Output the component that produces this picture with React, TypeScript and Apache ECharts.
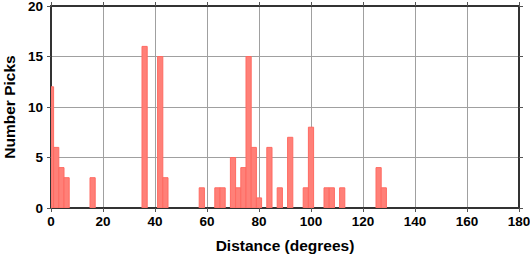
import React, { useEffect, useRef } from "react";
import * as echarts from "echarts";

const binCenters = [0, 2, 4, 6, 16, 36, 42, 44, 58, 64, 66, 70, 72, 74, 76, 78, 80, 84, 88, 92, 98, 100, 106, 108, 112, 126, 128];
const binCounts = [12, 6, 4, 3, 3, 16, 15, 3, 2, 2, 2, 5, 2, 4, 15, 6, 1, 6, 2, 7, 2, 8, 2, 2, 2, 4, 2];
const binWidth = 2;
const xTitle = "Distance (degrees)";
const yTitle = "Number Picks";

export default function App() {
  const ref = useRef<HTMLDivElement>(null);
  useEffect(() => {
    if (!ref.current) return;
    const chart = echarts.init(ref.current, undefined, { renderer: "svg" });
    const font = { fontFamily: "Liberation Sans", fontWeight: "bold" as const, color: "#000" };
    const frame = { show: true, onZero: false, lineStyle: { color: "#333", width: 2 } };
    const tick = { show: true, length: 4, lineStyle: { color: "#555", width: 1 } };
    chart.setOption({
      animation: false,
      grid: { left: 51, right: 11, top: 6, bottom: 50, containLabel: false, outerBoundsMode: "none" },
      xAxis: [
        {
          type: "value", min: 0, max: 180, interval: 20,
          axisLine: frame, axisTick: tick,
          axisLabel: { ...font, fontSize: 13.5, margin: 6 },
          splitLine: { show: true, lineStyle: { color: "#a0a0a0", width: 1 } },
          name: xTitle, nameLocation: "middle", nameGap: 29,
          nameTextStyle: { ...font, fontSize: 15.5 },
        },
        {
          type: "value", position: "top", min: 0, max: 180, interval: 20,
          axisLine: frame, axisTick: tick, axisLabel: { show: false }, splitLine: { show: false },
        },
      ],
      yAxis: [
        {
          type: "value", min: 0, max: 20, interval: 5,
          axisLine: frame, axisTick: tick,
          axisLabel: { ...font, fontSize: 13.5, margin: 8 },
          splitLine: { show: true, lineStyle: { color: "#a0a0a0", width: 1 } },
          name: yTitle, nameLocation: "middle", nameGap: 33, nameRotate: 90,
          nameTextStyle: { ...font, fontSize: 15.5 },
        },
        {
          type: "value", position: "right", min: 0, max: 20, interval: 5,
          axisLine: frame, axisTick: tick, axisLabel: { show: false }, splitLine: { show: false },
        },
      ],
      series: [
        {
          type: "custom",
          clip: true,
          data: binCenters.map((c, i) => [c, binCounts[i]]),
          renderItem: (params: any, api: any) => {
            const x = api.value(0);
            const y = api.value(1);
            const p0 = api.coord([x - binWidth / 2, y]);
            const p1 = api.coord([x + binWidth / 2, 0]);
            const rect = echarts.graphic.clipRectByRect(
              { x: p0[0], y: p0[1], width: p1[0] - p0[0], height: p1[1] - p0[1] },
              params.coordSys
            );
            return rect && {
              type: "rect",
              shape: rect,
              style: { fill: "#ff8078", stroke: "#ff6a62", lineWidth: 1 },
            };
          },
        },
      ],
    });
    return () => chart.dispose();
  }, []);
  return <div ref={ref} style={{ width: 530, height: 258, position: "absolute", left: 0, top: 0 }} />;
}
